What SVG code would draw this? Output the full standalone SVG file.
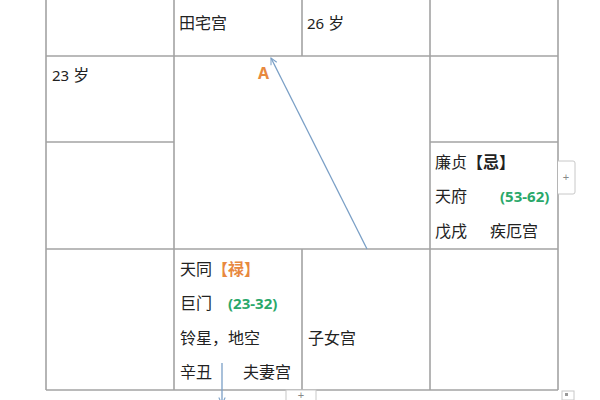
<svg xmlns="http://www.w3.org/2000/svg" width="600" height="400" viewBox="0 0 600 400">
<defs>
<style>
.grid{stroke:#a3a3a3;stroke-width:1.6;fill:none}
.t{font-family:"Noto Sans","Noto Sans CJK SC",sans-serif;font-size:16px;fill:#222}
.n{font-size:15px}
.b{font-weight:bold}
.or{fill:#e8893f;font-weight:bold}
.gr{fill:#2aa86a;font-weight:bold;font-size:15px}
.conn{stroke:#7a9fc6;stroke-width:1.3;fill:none}
.ui{fill:#fff;stroke:#c8c8c8;stroke-width:1}
.uit{font-family:"Liberation Sans",sans-serif;font-size:11px;fill:#888}
</style>
<marker id="ah" viewBox="0 0 10 10" refX="9" refY="5" markerWidth="8" markerHeight="8" orient="auto-start-reverse" markerUnits="userSpaceOnUse">
<path d="M1,1 L9,5 L1,9" fill="none" stroke="#7a9fc6" stroke-width="1.3"/>
</marker>
</defs>
<rect width="600" height="400" fill="#fff"/>
<g id="grid">
<line class="grid" x1="46" y1="0" x2="46" y2="390"/>
<line class="grid" x1="174" y1="0" x2="174" y2="390"/>
<line class="grid" x1="302" y1="0" x2="302" y2="56"/>
<line class="grid" x1="302" y1="249" x2="302" y2="390"/>
<line class="grid" x1="430" y1="0" x2="430" y2="390"/>
<line class="grid" x1="558" y1="0" x2="558" y2="390"/>
<line class="grid" x1="46" y1="56" x2="558" y2="56"/>
<line class="grid" x1="46" y1="142" x2="174" y2="142"/>
<line class="grid" x1="430" y1="142" x2="558" y2="142"/>
<line class="grid" x1="46" y1="249" x2="558" y2="249"/>
<line class="grid" x1="46" y1="390" x2="558" y2="390"/>
</g>
<g id="cell-tianzhai"><text class="t" x="179" y="29">田宅宫</text></g>
<g id="cell-26"><text class="t" x="307" y="29"><tspan class="n">26</tspan> 岁</text></g>
<g id="cell-23"><text class="t" x="52" y="81"><tspan class="n">23</tspan> 岁</text></g>
<g id="label-a"><text class="t or" x="258" y="79" font-size="13">A</text></g>
<g id="cell-jie">
<text class="t" x="435" y="168">廉贞<tspan class="b">【忌】</tspan></text>
<text class="t" x="435" y="202">天府</text>
<text class="t gr" x="500" y="202">(53-62)</text>
<text class="t" x="435" y="237">戊戌</text>
<text class="t" x="490" y="237">疾厄宫</text>
</g>
<g id="cell-fuqi">
<text class="t" x="180" y="275">天同<tspan class="or">【禄】</tspan></text>
<text class="t" x="180" y="309">巨门</text>
<text class="t gr" x="228" y="309">(23-32)</text>
<text class="t" x="180" y="344">铃星，地空</text>
<text class="t" x="180" y="378">辛丑</text>
<text class="t" x="243" y="378">夫妻宫</text>
</g>
<g id="cell-zinv"><text class="t" x="308" y="344">子女宫</text></g>
<g id="connectors">
<line class="conn" x1="367" y1="249" x2="271" y2="58" marker-end="url(#ah)"/>
<line class="conn" x1="222" y1="363" x2="222" y2="404" marker-end="url(#ah)"/>
</g>
<g id="ui">
<path class="ui" d="M558,161 H573 Q575,161 575,163 V192 Q575,194 573,194 H558"/>
<text class="uit" x="566" y="181" text-anchor="middle">+</text>
<rect class="ui" x="286" y="390" width="30" height="12"/>
<text class="uit" x="301" y="399" text-anchor="middle">+</text>
<rect class="ui" x="562" y="391" width="12" height="9"/>
<rect x="565" y="393" width="3" height="3" fill="#999"/>
</g>
</svg>
